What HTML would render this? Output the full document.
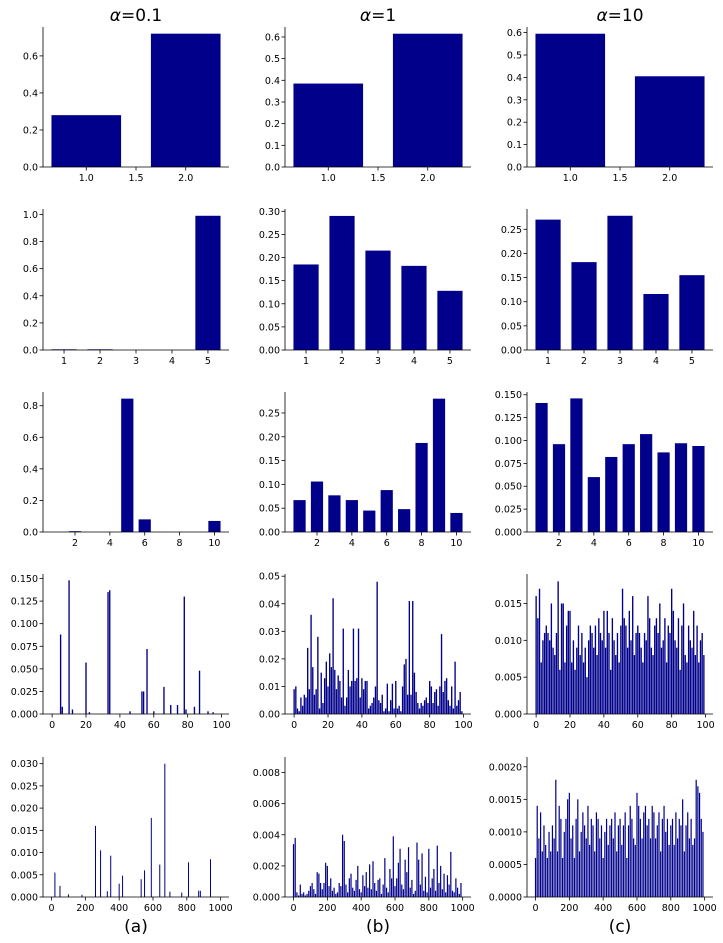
<!DOCTYPE html>
<html><head><meta charset="utf-8">
<style>
body{margin:0;background:#fff;}
svg{display:block;font-family:"DejaVu Sans","Liberation Sans",sans-serif;}
</style></head>
<body>
<svg id="fig" width="723" height="943" viewBox="0 0 723 943" xmlns="http://www.w3.org/2000/svg">
<text x="136" y="21" font-size="17" text-anchor="middle"><tspan font-style="italic">α</tspan>=0.1</text>
<text x="378" y="21" font-size="17" text-anchor="middle"><tspan font-style="italic">α</tspan>=1</text>
<text x="620" y="21" font-size="17" text-anchor="middle"><tspan font-style="italic">α</tspan>=10</text>
<text x="136" y="932" font-size="17" text-anchor="middle">(a)</text>
<text x="378" y="932" font-size="17" text-anchor="middle">(b)</text>
<text x="620" y="932" font-size="17" text-anchor="middle">(c)</text>
</svg>
<script>
// ---- data ----
const r1Cats = [1, 2];
const r1a = [0.28, 0.72];
const r1b = [0.385, 0.615];
const r1c = [0.595, 0.405];
const r2Cats = [1, 2, 3, 4, 5];
const r2a = [0.005, 0.005, 0.0, 0.0, 0.99];
const r2b = [0.185, 0.29, 0.215, 0.182, 0.128];
const r2c = [0.27, 0.182, 0.278, 0.116, 0.155];
const r3Cats = [1, 2, 3, 4, 5, 6, 7, 8, 9, 10];
const r3a = [0.0, 0.005, 0.0, 0.0, 0.845, 0.08, 0.0, 0.0, 0.0, 0.07];
const r3b = [0.067, 0.106, 0.077, 0.067, 0.045, 0.088, 0.048, 0.187, 0.28, 0.04];
const r3c = [0.141, 0.096, 0.146, 0.06, 0.082, 0.096, 0.107, 0.087, 0.097, 0.094];
// row 4: 100 categories (index 0..99)
const r4aIdx = [5, 6, 10, 12, 20, 22, 33, 34, 46, 53, 54, 56, 60, 66, 70, 74, 78, 79, 84, 87, 92, 95];
const r4aVal = [0.088, 0.008, 0.148, 0.005, 0.057, 0.002, 0.135, 0.137, 0.003, 0.025, 0.025, 0.072, 0.003, 0.03, 0.01, 0.01, 0.13, 0.005, 0.008, 0.048, 0.003, 0.002];
const r4b = [0.009,0.01,0.002,0.001,0.006,0.003,0.007,0.006,0.024,0.009,0.036,0.017,0.007,0.009,0.028,0.002,0.015,0.004,0.013,0.019,0.01,0.022,0.017,0.042,0.016,0.009,0.014,0.012,0.006,0.031,0.003,0.006,0.016,0.01,0.012,0.031,0.012,0.013,0.031,0.006,
0.013,0.009,0.012,0.012,0.002,0.003,0.004,0.006,0.01,0.048,0.005,0.004,0.007,0.001,0.002,0.011,0.001,0.005,0.011,0.002,0.012,0.002,0.003,0.001,0.01,0.018,0.02,0.007,0.041,0.007,0.041,0.015,0.008,0.004,0.002,0.004,0.003,0.005,0.006,0.004,
0.012,0.01,0.004,0.008,0.009,0.003,0.01,0.029,0.008,0.012,0.013,0.005,0.003,0.01,0.002,0.019,0.003,0.005,0.008,0.001];
const r4c = [0.016,0.013,0.017,0.007,0.01,0.011,0.012,0.011,0.01,0.015,0.009,0.008,0.011,0.018,0.006,0.015,0.015,0.007,0.012,0.014,0.014,0.007,0.01,0.006,0.009,0.012,0.008,0.011,0.007,0.009,
0.005,0.01,0.012,0.011,0.009,0.012,0.008,0.013,0.011,0.01,0.014,0.009,0.014,0.011,0.006,0.013,0.01,0.008,0.011,0.007,0.012,0.017,0.013,0.012,0.009,0.014,0.01,0.016,0.008,0.011,
0.012,0.011,0.009,0.007,0.011,0.01,0.016,0.013,0.009,0.008,0.012,0.013,0.011,0.015,0.009,0.01,0.013,0.007,0.012,0.011,0.017,0.014,0.01,0.009,0.013,0.006,0.012,0.015,0.008,0.007,
0.012,0.01,0.009,0.014,0.008,0.012,0.007,0.01,0.011,0.008];
// row 5: 1000 categories (sparse for a, every 10th index shown for b, c)
const r5aIdx = [20, 50, 100, 180, 260, 290, 330, 350, 400, 420, 530, 550, 590, 640, 670, 700, 770, 810, 870, 880, 940];
const r5aVal = [0.0055, 0.0025, 0.0006, 0.0005, 0.016, 0.0105, 0.0013, 0.0093, 0.003, 0.0048, 0.004, 0.006, 0.0178, 0.0073, 0.03, 0.0012, 0.001, 0.0078, 0.0014, 0.0014, 0.0085];
const r5b = [0.0034,0.0038,0.0003,0.0001,0.0008,0.0002,0.0003,0.0001,0.0002,0.0004,0.0007,0.0009,0.0005,0.0002,0.0016,0.0015,0.0009,0.0005,0.0009,0.0022,0.002,0.0007,0.0012,0.0004,0.0006,0.0002,0.0003,0.0009,0.0007,0.004,
0.0036,0.0008,0.0003,0.0012,0.0015,0.0006,0.0004,0.0011,0.002,0.0005,0.0003,0.0014,0.0007,0.0016,0.0006,0.0021,0.0005,0.0023,0.0009,0.0004,0.0011,0.0012,0.0002,0.0008,0.0025,0.0006,0.0003,0.0018,0.0012,0.0039,
0.0007,0.0012,0.0022,0.0031,0.0008,0.0005,0.0024,0.0016,0.0032,0.0006,0.0011,0.0002,0.0004,0.0035,0.0024,0.0008,0.0028,0.0004,0.0013,0.0003,0.0031,0.0006,0.0012,0.0018,0.0004,0.0033,0.0009,0.002,0.0005,0.0015,
0.0003,0.0014,0.0008,0.0029,0.0004,0.0003,0.0012,0.0006,0.0002,0.0009];
const r5c = [0.0006,0.0014,0.0009,0.0013,0.0007,0.0011,0.0008,0.0006,0.001,0.0007,0.0011,0.0009,0.0018,0.0007,0.0014,0.0012,0.0006,0.001,0.0012,0.0015,0.0016,0.0009,0.0011,0.0006,0.0012,0.0015,0.0007,0.001,0.0013,0.0011,
0.0009,0.0014,0.0008,0.0012,0.0011,0.0007,0.0013,0.0012,0.0009,0.0011,0.0006,0.001,0.0012,0.0008,0.0011,0.0012,0.0009,0.0013,0.0007,0.0011,0.0012,0.0008,0.0011,0.0013,0.0006,0.0011,0.0014,0.0012,0.0009,0.0008,
0.0016,0.0014,0.0012,0.0009,0.0013,0.0014,0.0011,0.0012,0.0009,0.0014,0.0013,0.0009,0.0011,0.0013,0.0007,0.0012,0.0014,0.001,0.0012,0.0008,0.0011,0.0012,0.0008,0.0013,0.0009,0.0012,0.0011,0.0015,0.0007,0.0011,
0.0013,0.0009,0.0012,0.0008,0.0009,0.0018,0.0017,0.0016,0.0012,0.001];
const r5Idx = [];
for (let i = 0; i < 100; i++) r5Idx.push(i * 10);
const r4Idx = [];
for (let i = 0; i < 100; i++) r4Idx.push(i);

// ---- tick arrays ----
const xt1 = [1.0, 1.5, 2.0], xl1 = ["1.0", "1.5", "2.0"];
const xt2 = [1, 2, 3, 4, 5], xl2 = ["1", "2", "3", "4", "5"];
const xt3 = [2, 4, 6, 8, 10], xl3 = ["2", "4", "6", "8", "10"];
const xt4 = [0, 20, 40, 60, 80, 100], xl4 = ["0", "20", "40", "60", "80", "100"];
const xt5 = [0, 200, 400, 600, 800, 1000], xl5 = ["0", "200", "400", "600", "800", "1000"];

// ---- layout ----
const NS = "http://www.w3.org/2000/svg";
const svg = document.getElementById("fig");
const tops = [27, 209, 392, 574, 757], bots = [167, 350, 532, 714, 897];
const lefts = [43, 285, 527], rights = [229, 471, 713];
const colNames = ["a", "b", "c"];

function mk(tag, attrs) {
  const e = document.createElementNS(NS, tag);
  for (const k in attrs) e.setAttribute(k, attrs[k]);
  return e;
}

function panel(row, col, idx, vals, barW, xt, xl, ymax, ystep, ydec, minW) {
  const g = mk("g", {});
  
  
  svg.appendChild(g);
  const L = lefts[col], R = rights[col], T = tops[row], B = bots[row];
  const first = row >= 3 ? 0 : idx[0];
  const last = row >= 3 ? (row === 3 ? 99 : 999) : idx[idx.length - 1];
  const lo0 = first - barW / 2, hi0 = last + barW / 2;
  const m = (hi0 - lo0) * 0.05, lo = lo0 - m, hi = hi0 + m;
  const xs = v => L + (v - lo) / (hi - lo) * (R - L);
  const ys = v => B - v / ymax * (B - T);
  for (let i = 0; i < vals.length; i++) {
    const x0 = xs(idx[i] - barW / 2), x1 = xs(idx[i] + barW / 2);
    let w = Math.max(x1 - x0, minW);
    const r = mk("rect", {x: (x0 + x1) / 2 - w / 2, y: ys(vals[i]), width: w, height: Math.max(0, B - ys(vals[i])), fill: "#00008b"});
    
    
    g.appendChild(r);
  }
  const ax = mk("path", {d: `M${L},${T}V${B}H${R}`, stroke: "#000", "stroke-width": 0.8, fill: "none"});
  
  
  g.appendChild(ax);
  for (let i = 0; i < xt.length; i++) {
    const x = xs(xt[i]);
    g.appendChild(mk("line", {x1: x, x2: x, y1: B, y2: B + 3.5, stroke: "#000", "stroke-width": 0.8}));
    const t = mk("text", {x: x, y: B + 14, "font-size": 9.5, "text-anchor": "middle"});
    t.textContent = xl[i];
    
    
    g.appendChild(t);
  }
  const n = Math.floor(ymax / ystep + 1e-9);
  for (let k = 0; k <= n; k++) {
    const v = k * ystep, y = ys(v);
    g.appendChild(mk("line", {x1: L - 3.5, x2: L, y1: y, y2: y, stroke: "#000", "stroke-width": 0.8}));
    const t = mk("text", {x: L - 5, y: y + 3.5, "font-size": 9.5, "text-anchor": "end"});
    t.textContent = v.toFixed(ydec);
    
    
    g.appendChild(t);
  }
}

panel(0, 0, r1Cats, r1a, 0.7, xt1, xl1, 0.756, 0.2, 1, 0);
panel(0, 1, r1Cats, r1b, 0.7, xt1, xl1, 0.646, 0.1, 1, 0);
panel(0, 2, r1Cats, r1c, 0.7, xt1, xl1, 0.625, 0.1, 1, 0);
panel(1, 0, r2Cats, r2a, 0.7, xt2, xl2, 1.04, 0.2, 1, 0);
panel(1, 1, r2Cats, r2b, 0.7, xt2, xl2, 0.305, 0.05, 2, 0);
panel(1, 2, r2Cats, r2c, 0.7, xt2, xl2, 0.292, 0.05, 2, 0);
panel(2, 0, r3Cats, r3a, 0.7, xt3, xl3, 0.887, 0.2, 1, 0);
panel(2, 1, r3Cats, r3b, 0.7, xt3, xl3, 0.294, 0.05, 2, 0);
panel(2, 2, r3Cats, r3c, 0.7, xt3, xl3, 0.153, 0.025, 3, 0);
panel(3, 0, r4aIdx, r4aVal, 0.8, xt4, xl4, 0.155, 0.025, 3, 1);
panel(3, 1, r4Idx, r4b, 0.8, xt4, xl4, 0.0508, 0.01, 2, 1);
panel(3, 2, r4Idx, r4c, 0.8, xt4, xl4, 0.019, 0.005, 3, 1);
panel(4, 0, r5aIdx, r5aVal, 0.8, xt5, xl5, 0.0315, 0.005, 3, 1);
panel(4, 1, r5Idx, r5b, 0.8, xt5, xl5, 0.009, 0.002, 3, 1.2);
panel(4, 2, r5Idx, r5c, 0.8, xt5, xl5, 0.00215, 0.0005, 4, 1.2);
</script>
</body></html>
